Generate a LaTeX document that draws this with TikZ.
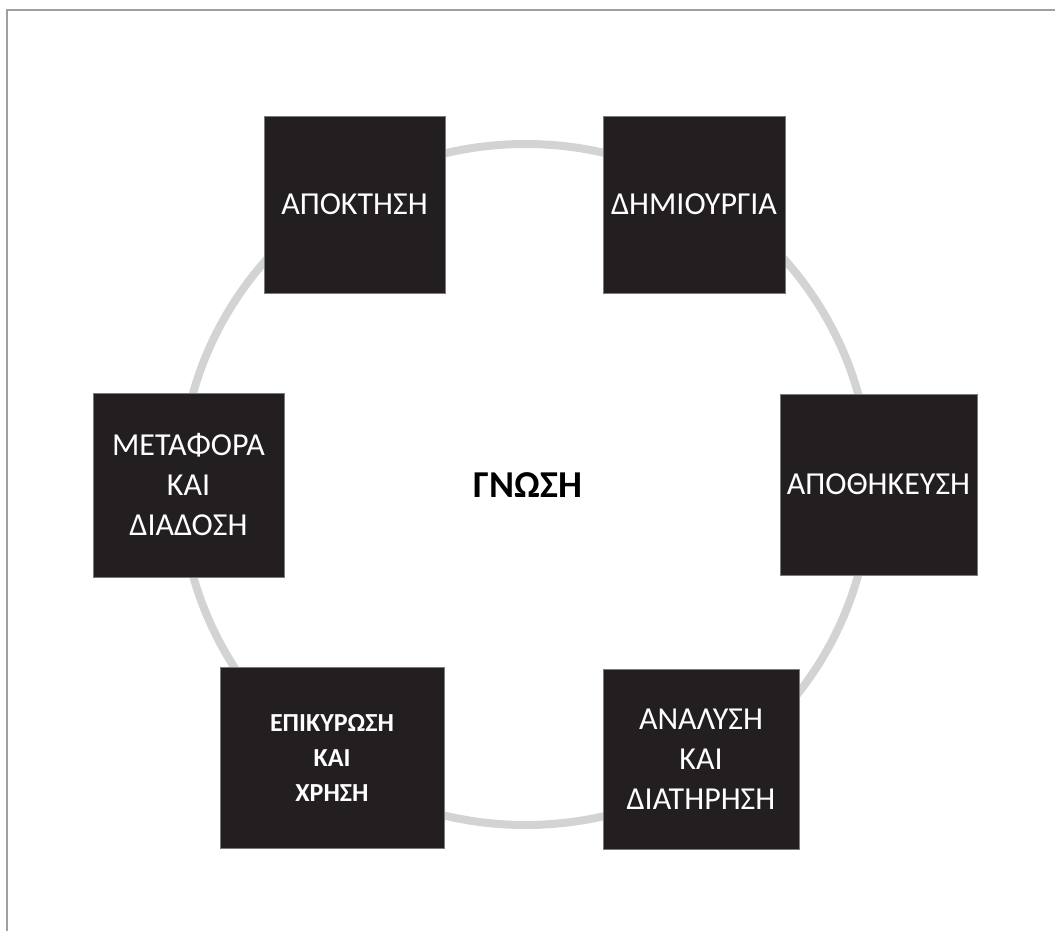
\documentclass[tikz,border=0pt]{standalone}
\usepackage{fontspec}
\setmainfont{Carlito}
\usepackage{tikz}
\usetikzlibrary{calc}

\definecolor{boxfill}{HTML}{231F20}
\definecolor{boxedge}{HTML}{7A7A7A}
\definecolor{ringgray}{HTML}{D1D3D4}
\definecolor{framegray}{HTML}{A0A0A0}

\begin{document}
\begin{tikzpicture}[
        x=1pt, y=-1pt,
        phase-node/.style={rectangle,fill=boxfill,draw=boxedge,line width=0.8pt,
            text=white,align=center,inner sep=0pt,
            font=\fontsize{32}{40}\selectfont},
        bold-node/.style={phase-node,font=\fontsize{26}{35}\selectfont\bfseries},
        core-node/.style={text=black,font=\fontsize{38}{42}\selectfont\bfseries},
        ring-line/.style={ringgray,line width=8pt},
        frame-line/.style={framegray,line width=1.5pt}
    ]
        \useasboundingbox (0, 0) rectangle (1055, 931);
        \draw[frame-line] (7, 931) -- (7, 10) -- (1055, 10);

        \draw[ring-line] (525.5, 484.5) ellipse [x radius=345pt, y radius=340.5pt];

        \node[core-node] (gnosi) at (528, 485) {ΓΝΩΣΗ};

        \node[phase-node, minimum width=181, minimum height=177] (apoktisi) at (354.5, 204.5) {ΑΠΟΚΤΗΣΗ};
        \node[phase-node, minimum width=182, minimum height=177] (dimiourgia) at (694, 204.5) {ΔΗΜΙΟΥΡΓΙΑ};

        \node[phase-node, minimum width=191, minimum height=184] (metafora) at (188.5, 485) {ΜΕΤΑΦΟΡΑ\\ΚΑΙ\\ΔΙΑΔΟΣΗ};
        \node[phase-node, minimum width=197, minimum height=181] (apothikeusi) at (878.5, 484.5) {ΑΠΟΘΗΚΕΥΣΗ};

        \node[bold-node, minimum width=224, minimum height=181] (epikyrosi) at (332, 757.5) {ΕΠΙΚΥΡΩΣΗ\\ΚΑΙ\\ΧΡΗΣΗ};
        \node[phase-node, minimum width=196, minimum height=180] (analysi) at (701, 759) {ΑΝΑΛΥΣΗ\\ΚΑΙ\\ΔΙΑΤΗΡΗΣΗ};
    \end{tikzpicture}
\end{document}
